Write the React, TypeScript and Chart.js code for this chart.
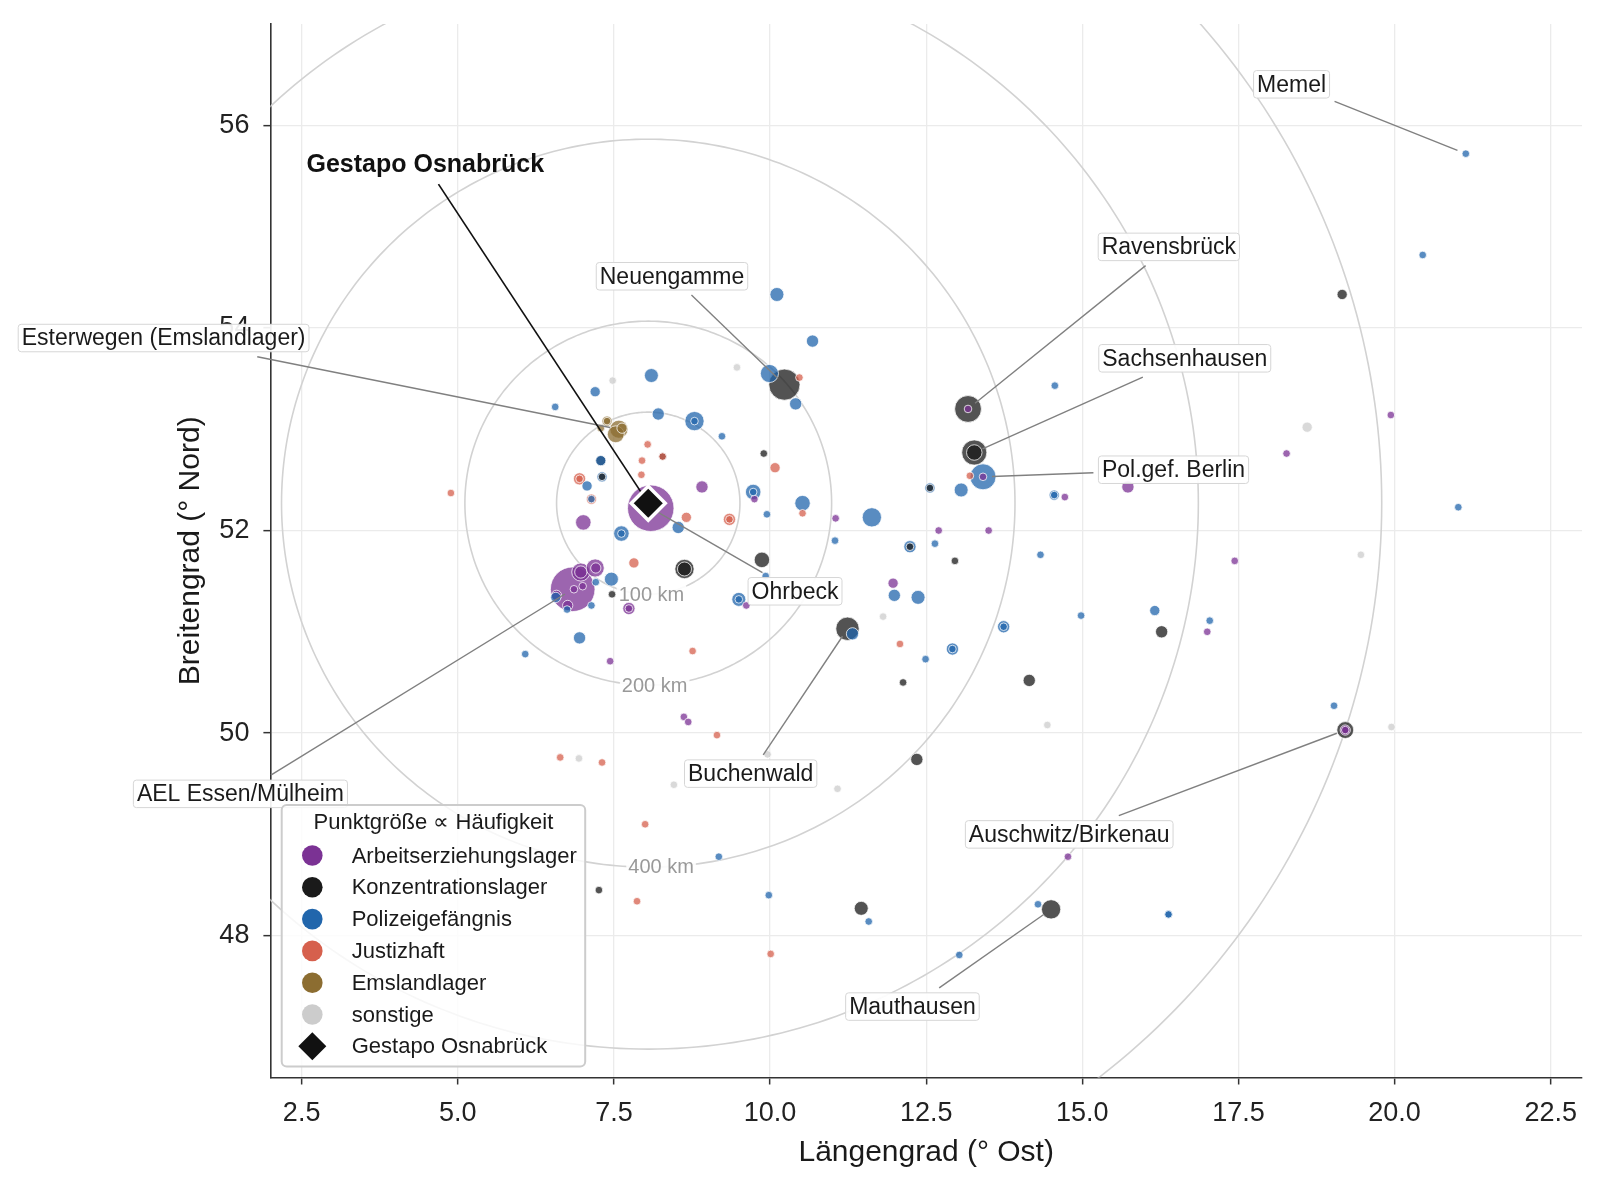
import React, { useEffect, useRef } from "react";
import { Chart, registerables } from "chart.js";

Chart.register(...registerables);

const FONT = '"Liberation Sans", Arial, Helvetica, sans-serif';

// ---------- categories ----------
const CATEGORY_NAMES = [
  "Arbeitserziehungslager",
  "Konzentrationslager",
  "Polizeigefängnis",
  "Justizhaft",
  "Emslandlager",
  "sonstige",
];
const CATEGORY_COLORS = ["#7b3294", "#1a1a1a", "#2166ac", "#d6604d", "#8c6d31", "#cccccc"];

// ---------- data: [Längengrad, Breitengrad, Häufigkeit] ----------
const ARBEITSERZIEHUNGSLAGER: number[][] = [
  [8.09, 52.22, 50], [6.84, 51.42, 46],
  [6.97, 51.59, 7], [6.97, 51.59, 3],
  [7.2, 51.63, 7], [7.21, 51.63, 2],
  [7.0, 51.45, 1], [6.86, 51.42, 1], [6.58, 51.36, 2], [6.76, 51.26, 2],
  [7.74, 51.23, 3], [7.74, 51.23, 1],
  [7.01, 52.08, 5], [8.91, 52.43, 3], [9.75, 52.31, 1], [9.62, 51.26, 1],
  [11.05, 52.12, 1], [12.7, 52.0, 1], [13.5, 52.0, 1], [11.97, 51.48, 2],
  [14.72, 52.33, 1], [15.73, 52.43, 3], [18.27, 52.76, 1], [19.94, 53.14, 1],
  [17.44, 51.7, 1], [17.0, 51.0, 1], [14.77, 48.78, 1], [8.62, 50.16, 1],
  [8.69, 50.11, 1], [7.44, 50.71, 1], [13.41, 52.53, 1], [13.17, 53.2, 1],
  [19.21, 50.03, 2], [19.21, 50.03, 1],
];
const KONZENTRATIONSLAGER: number[][] = [
  [19.16, 54.33, 2], [10.23, 53.44, 22], [13.17, 53.2, 16],
  [13.27, 52.77, 14], [13.27, 52.77, 5],
  [12.56, 52.42, 1], [12.24, 51.84, 1], [9.9, 52.76, 1], [8.28, 52.73, 1],
  [7.31, 52.53, 1], [7.29, 52.69, 2],
  [8.63, 51.62, 8], [8.63, 51.62, 4],
  [9.87, 51.71, 5], [7.47, 51.37, 1], [11.24, 51.03, 12], [12.13, 50.5, 1],
  [12.96, 51.7, 1], [14.15, 50.52, 3], [16.27, 51.0, 3], [12.35, 49.74, 3],
  [11.46, 48.27, 4], [14.5, 48.26, 8], [7.26, 48.45, 1], [19.21, 50.03, 6],
];
const POLIZEIGEFAENGNIS: number[][] = [
  [21.14, 55.72, 1], [20.45, 54.72, 1], [10.11, 54.33, 4], [10.68, 53.87, 3],
  [9.99, 53.55, 7], [10.41, 53.25, 3], [8.1, 53.53, 4], [7.2, 53.37, 2],
  [6.56, 53.22, 1], [8.21, 53.15, 3], [8.79, 53.08, 8], [8.79, 53.08, 1],
  [9.23, 52.93, 1], [7.29, 52.69, 2], [7.07, 52.44, 2], [7.14, 52.31, 1],
  [7.31, 52.53, 2], [7.62, 51.97, 5], [7.62, 51.97, 1], [8.53, 52.03, 3],
  [9.73, 52.38, 5], [9.73, 52.38, 1], [9.95, 52.16, 1], [10.52, 52.27, 5],
  [11.04, 51.9, 1], [11.63, 52.13, 8], [12.24, 51.84, 3], [12.64, 51.87, 1],
  [14.33, 51.76, 1], [13.06, 52.4, 4], [13.41, 52.53, 15], [12.56, 52.42, 2],
  [14.55, 52.35, 2], [14.55, 52.35, 1], [14.56, 53.43, 1], [21.02, 52.23, 1],
  [14.98, 51.16, 1], [16.16, 51.21, 2], [17.04, 51.11, 1], [19.03, 50.27, 1],
  [13.74, 51.05, 3], [13.74, 51.05, 1], [12.92, 50.83, 3], [12.92, 50.83, 1],
  [12.49, 50.73, 1], [12.37, 51.34, 4], [11.99, 51.36, 3], [9.5, 51.32, 4],
  [9.5, 51.32, 1], [9.93, 51.55, 1], [7.46, 51.52, 4], [7.14, 51.26, 1],
  [6.75, 51.22, 1], [6.57, 51.34, 2], [7.21, 51.49, 1], [6.95, 50.94, 3],
  [6.08, 50.78, 1], [9.18, 48.78, 1], [9.98, 48.4, 1], [11.58, 48.14, 1],
  [13.03, 47.81, 1], [14.29, 48.31, 1], [16.38, 48.21, 1], [16.38, 48.21, 1],
  [11.32, 50.98, 3],
];
const JUSTIZHAFT: number[][] = [
  [10.47, 53.51, 1], [8.04, 52.85, 1], [7.95, 52.69, 1], [7.94, 52.55, 1],
  [8.28, 52.73, 1], [6.95, 52.51, 3], [6.95, 52.51, 1], [7.14, 52.31, 2],
  [8.66, 52.13, 2], [9.35, 52.11, 3], [9.35, 52.11, 1], [10.08, 52.62, 2],
  [10.52, 52.17, 1], [7.82, 51.68, 2], [8.76, 50.81, 1], [9.15, 49.98, 1],
  [6.64, 49.76, 1], [7.31, 49.71, 1], [8.0, 49.1, 1], [7.87, 48.34, 1],
  [10.01, 47.82, 1], [12.08, 50.88, 1], [13.2, 52.54, 1], [4.89, 52.37, 1],
];
const EMSLANDLAGER: number[][] = [
  [7.39, 53.08, 2], [7.39, 53.08, 1], [7.58, 53.0, 7], [7.63, 53.01, 2],
  [7.53, 52.95, 6], [7.29, 53.01, 1],
];
const SONSTIGE: number[][] = [
  [9.47, 53.61, 1], [7.48, 53.48, 1], [18.6, 53.02, 2], [19.46, 51.76, 1],
  [11.81, 51.15, 1], [14.44, 50.08, 1], [19.95, 50.06, 1], [9.96, 49.79, 1],
  [8.46, 49.49, 1], [11.08, 49.45, 1], [6.94, 49.75, 1],
];
const CATEGORY_DATA = [
  ARBEITSERZIEHUNGSLAGER,
  KONZENTRATIONSLAGER,
  POLIZEIGEFAENGNIS,
  JUSTIZHAFT,
  EMSLANDLAGER,
  SONSTIGE,
];

const GESTAPO = { label: "Gestapo Osnabrück", lon: 8.05, lat: 52.27 };
const RING_KM = [100, 200, 400, 600, 800];
const RING_LABEL_KM = [100, 200, 400];
const X_TICKS = [2.5, 5, 7.5, 10, 12.5, 15, 17.5, 20, 22.5];
const Y_TICKS = [48, 50, 52, 54, 56];
const X_RANGE = [2, 23];
const Y_RANGE = [46.6, 57.0];
const LEGEND_TITLE = "Punktgröße ∝ Häufigkeit";
const X_TITLE = "Längengrad (° Ost)";
const Y_TITLE = "Breitengrad (° Nord)";

const ANNOTATIONS = [
  { text: "Neuengamme", lon: 10.23, lat: 53.44, textLon: 8.43, textLat: 54.51 },
  { text: "Esterwegen (Emslandlager)", lon: 7.58, lat: 53.0, textLon: 0.29, textLat: 53.9 },
  { text: "AEL Essen/Mülheim", lon: 6.84, lat: 51.42, textLon: 1.52, textLat: 49.4 },
  { text: "Ohrbeck", lon: 8.09, lat: 52.22, textLon: 10.4, textLat: 51.4 },
  { text: "Buchenwald", lon: 11.24, lat: 51.03, textLon: 9.69, textLat: 49.6 },
  { text: "Ravensbrück", lon: 13.17, lat: 53.2, textLon: 16.385, textLat: 54.8 },
  { text: "Sachsenhausen", lon: 13.27, lat: 52.77, textLon: 16.64, textLat: 53.7 },
  { text: "Pol.gef. Berlin", lon: 13.41, lat: 52.53, textLon: 16.46, textLat: 52.6 },
  { text: "Memel", lon: 21.14, lat: 55.72, textLon: 18.35, textLat: 56.405 },
  { text: "Auschwitz/Birkenau", lon: 19.21, lat: 50.03, textLon: 14.79, textLat: 49.0 },
  { text: "Mauthausen", lon: 14.5, lat: 48.26, textLon: 12.28, textLat: 47.3 },
];
const ORIGIN_ANNOTATION = { text: "Gestapo Osnabrück", textLon: 4.48, textLat: 55.617 };

// ---------- helpers ----------
function rgba(hex: string, a: number) {
  const n = parseInt(hex.slice(1), 16);
  return `rgba(${(n >> 16) & 255},${(n >> 8) & 255},${n & 255},${a})`;
}
const radiusFor = (n: number) => 3.2 * Math.sqrt(n) + 0.6;

function roundRect(ctx: CanvasRenderingContext2D, x: number, y: number, w: number, h: number, r: number) {
  ctx.beginPath();
  ctx.moveTo(x + r, y);
  ctx.lineTo(x + w - r, y);
  ctx.arcTo(x + w, y, x + w, y + r, r);
  ctx.lineTo(x + w, y + h - r);
  ctx.arcTo(x + w, y + h, x + w - r, y + h, r);
  ctx.lineTo(x + r, y + h);
  ctx.arcTo(x, y + h, x, y + h - r, r);
  ctx.lineTo(x, y + r);
  ctx.arcTo(x, y, x + r, y, r);
  ctx.closePath();
}

function geom(chart: any, text: string, lon: number, lat: number, bold: boolean) {
  const { ctx, scales } = chart;
  ctx.save();
  ctx.font = bold ? `bold 25px ${FONT}` : `23px ${FONT}`;
  const tw = ctx.measureText(text).width;
  ctx.restore();
  const cx = scales.x.getPixelForValue(lon);
  const cy = scales.y.getPixelForValue(lat);
  return { cx, cy, tw, hw: bold ? tw / 2 : tw / 2 + 3.5, hh: bold ? 12 : 13.75 };
}

function leader(ctx: CanvasRenderingContext2D, g: any, tx: number, ty: number, gap: number, shrink: number, color: string, width: number) {
  const dx = tx - g.cx;
  const dy = ty - g.cy;
  const len = Math.hypot(dx, dy);
  const t0 = Math.min((g.hw + gap) / Math.max(Math.abs(dx), 1e-6), (g.hh + gap) / Math.max(Math.abs(dy), 1e-6));
  const sx = g.cx + dx * t0;
  const sy = g.cy + dy * t0;
  const ex = tx - (dx / len) * shrink;
  const ey = ty - (dy / len) * shrink;
  ctx.beginPath();
  ctx.moveTo(sx, sy);
  ctx.lineTo(ex, ey);
  ctx.strokeStyle = color;
  ctx.lineWidth = width;
  ctx.stroke();
}

// ---------- plugins ----------
const ringsPlugin = {
  id: "rings",
  beforeDatasetsDraw(chart: any) {
    const { ctx, chartArea: a, scales } = chart;
    const x = scales.x, y = scales.y;
    const k = 111.32;
    const cosL = Math.cos((GESTAPO.lat * Math.PI) / 180);
    ctx.save();
    ctx.beginPath();
    ctx.rect(a.left, a.top, a.right - a.left, a.bottom - a.top);
    ctx.clip();
    ctx.strokeStyle = "#d2d2d2";
    ctx.lineWidth = 1.6;
    RING_KM.forEach((r) => {
      ctx.beginPath();
      for (let i = 0; i <= 360; i++) {
        const t = (i * Math.PI) / 180;
        const px = x.getPixelForValue(GESTAPO.lon + (r / (k * cosL)) * Math.cos(t));
        const py = y.getPixelForValue(GESTAPO.lat + (r / k) * Math.sin(t));
        if (i === 0) ctx.moveTo(px, py);
        else ctx.lineTo(px, py);
      }
      ctx.stroke();
    });
    ctx.font = `20px ${FONT}`;
    ctx.textAlign = "center";
    ctx.textBaseline = "middle";
    const ang = (-88 * Math.PI) / 180;
    RING_LABEL_KM.forEach((r) => {
      const px = x.getPixelForValue(GESTAPO.lon + (r / (k * cosL)) * Math.cos(ang));
      const py = y.getPixelForValue(GESTAPO.lat + (r / k) * Math.sin(ang));
      const label = `${r} km`;
      const w = ctx.measureText(label).width;
      ctx.fillStyle = "rgba(255,255,255,0.9)";
      ctx.fillRect(px - w / 2 - 2, py - 11, w + 4, 22);
      ctx.fillStyle = "#999999";
      ctx.fillText(label, px, py + 1);
    });
    ctx.restore();
  },
};

const annotationPlugin = {
  id: "annotations",
  afterDatasetDraw(chart: any, args: any) {
    if (args.index !== 0) return;
    const { ctx, scales } = chart;
    ctx.save();
    ANNOTATIONS.forEach((an) => {
      const g = geom(chart, an.text, an.textLon, an.textLat, false);
      leader(ctx, g, scales.x.getPixelForValue(an.lon), scales.y.getPixelForValue(an.lat), 5, 9, "#808080", 1.4);
    });
    const g0 = geom(chart, ORIGIN_ANNOTATION.text, ORIGIN_ANNOTATION.textLon, ORIGIN_ANNOTATION.textLat, true);
    leader(ctx, g0, scales.x.getPixelForValue(GESTAPO.lon), scales.y.getPixelForValue(GESTAPO.lat), 8, 0, "#111111", 1.7);
    ctx.restore();
  },
  afterDatasetsDraw(chart: any) {
    const { ctx } = chart;
    ctx.save();
    ctx.textAlign = "center";
    ctx.textBaseline = "middle";
    ANNOTATIONS.forEach((an) => {
      const g = geom(chart, an.text, an.textLon, an.textLat, false);
      roundRect(ctx, g.cx - g.hw, g.cy - g.hh, g.hw * 2, g.hh * 2, 3);
      ctx.fillStyle = "rgba(255,255,255,0.92)";
      ctx.fill();
      ctx.strokeStyle = "#d6d6d6";
      ctx.lineWidth = 1;
      ctx.stroke();
      ctx.font = `23px ${FONT}`;
      ctx.fillStyle = "#1a1a1a";
      ctx.fillText(an.text, g.cx, g.cy + 1);
    });
    const g0 = geom(chart, ORIGIN_ANNOTATION.text, ORIGIN_ANNOTATION.textLon, ORIGIN_ANNOTATION.textLat, true);
    ctx.font = `bold 25px ${FONT}`;
    ctx.fillStyle = "#111111";
    ctx.fillText(ORIGIN_ANNOTATION.text, g0.cx, g0.cy + 1);
    ctx.restore();
  },
};

const legendPlugin = {
  id: "legendBox",
  afterDraw(chart: any) {
    const { ctx, chartArea: a } = chart;
    const w = 303.5, h = 261.5;
    const left = a.left + 11.3;
    const top = a.bottom - 11 - h;
    ctx.save();
    roundRect(ctx, left, top, w, h, 5);
    ctx.fillStyle = "rgba(255,255,255,0.82)";
    ctx.fill();
    ctx.strokeStyle = "#cccccc";
    ctx.lineWidth = 2;
    ctx.stroke();
    ctx.font = `22px ${FONT}`;
    ctx.textBaseline = "middle";
    ctx.textAlign = "center";
    ctx.fillStyle = "#1a1a1a";
    ctx.fillText(LEGEND_TITLE, left + w / 2, top + 18);
    ctx.textAlign = "left";
    const items = CATEGORY_NAMES.map((n, i) => ({ text: n, color: CATEGORY_COLORS[i], diamond: false }));
    items.push({ text: GESTAPO.label, color: "#111111", diamond: true });
    items.forEach((it, i) => {
      const cy = top + 50.5 + i * 31.8;
      const cx = left + 30.6;
      ctx.beginPath();
      if (it.diamond) {
        const r = 14;
        ctx.moveTo(cx - r, cy);
        ctx.lineTo(cx, cy - r);
        ctx.lineTo(cx + r, cy);
        ctx.lineTo(cx, cy + r);
        ctx.closePath();
      } else {
        ctx.arc(cx, cy, 10.3, 0, Math.PI * 2);
      }
      ctx.fillStyle = it.color;
      ctx.fill();
      ctx.fillStyle = "#1a1a1a";
      ctx.fillText(it.text, left + 70, cy + 1);
    });
    ctx.restore();
  },
};

function noPadding(s: any) {
  s.paddingTop = 0;
  s.paddingBottom = 0;
  s.paddingLeft = 0;
  s.paddingRight = 0;
}

// ---------- component ----------
export default function App() {
  const ref = useRef<HTMLCanvasElement>(null);

  useEffect(() => {
    document.body.style.margin = "0";
    const points: any[] = [];
    CATEGORY_DATA.forEach((arr, ci) =>
      arr.forEach(([lon, lat, n]) => points.push({ x: lon, y: lat, n, cat: ci }))
    );
    points.sort((p, q) => q.n - p.n);

    const tickFont = { family: FONT, size: 27 };
    const titleFont = { family: FONT, size: 30 };

    const chart = new Chart(ref.current!, {
      type: "scatter",
      data: {
        datasets: [
          {
            label: "Orte",
            data: points,
            order: 1,
            pointRadius: (c: any) => (c.raw ? radiusFor(c.raw.n) : 3),
            pointHoverRadius: (c: any) => (c.raw ? radiusFor(c.raw.n) : 3),
            backgroundColor: (c: any) => (c.raw ? rgba(CATEGORY_COLORS[c.raw.cat], 0.75) : "#999"),
            borderColor: "rgba(255,255,255,0.95)",
            borderWidth: 0.8,
          } as any,
          {
            label: GESTAPO.label,
            data: [{ x: GESTAPO.lon, y: GESTAPO.lat }],
            order: 0,
            pointStyle: "rectRot",
            pointRadius: 17,
            pointHoverRadius: 17,
            backgroundColor: "#111111",
            borderColor: "#ffffff",
            borderWidth: 3.5,
          } as any,
        ],
      },
      options: {
        responsive: false,
        animation: false,
        events: [],
        layout: { padding: { top: 20.5, right: 20.5, left: 0, bottom: 0 } },
        plugins: {
          legend: { display: false },
          tooltip: { enabled: false },
        },
        scales: {
          x: {
            type: "linear",
            min: X_RANGE[0],
            max: X_RANGE[1],
            afterBuildTicks: (s: any) => {
              s.ticks = X_TICKS.map((v) => ({ value: v }));
            },
            afterFit: (s: any) => {
              s.height = 110.5;
              noPadding(s);
            },
            grid: { color: "#ebebeb", lineWidth: 1.3, tickLength: 7, tickColor: "#333333", tickWidth: 1.5 },
            border: { display: true, color: "#333333", width: 1.6 },
            ticks: {
              font: tickFont,
              color: "#222222",
              padding: 13,
              maxRotation: 0,
              autoSkip: false,
              callback: (v: any) => Number(v).toFixed(1),
            },
            title: {
              display: true,
              text: X_TITLE,
              font: titleFont,
              color: "#1a1a1a",
              padding: { top: 0, bottom: 17 },
            },
          },
          y: {
            type: "linear",
            min: Y_RANGE[0],
            max: Y_RANGE[1],
            afterBuildTicks: (s: any) => {
              s.ticks = Y_TICKS.map((v) => ({ value: v }));
            },
            afterFit: (s: any) => {
              s.width = 270.4;
              noPadding(s);
            },
            grid: { color: "#ebebeb", lineWidth: 1.3, tickLength: 7, tickColor: "#333333", tickWidth: 1.5 },
            border: { display: true, color: "#333333", width: 1.6 },
            ticks: {
              font: tickFont,
              color: "#222222",
              padding: 14,
              autoSkip: false,
              callback: (v: any) => String(Math.round(Number(v))),
            },
            title: {
              display: true,
              text: Y_TITLE,
              font: titleFont,
              color: "#1a1a1a",
              padding: { top: 173, bottom: 0 },
            },
          },
        },
      } as any,
      plugins: [ringsPlugin, annotationPlugin, legendPlugin],
    });
    return () => chart.destroy();
  }, []);

  return (
    <div style={{ position: "absolute", left: 0, top: 0, width: 1606, height: 1188, background: "#ffffff" }}>
      <canvas ref={ref} width={1606} height={1188} style={{ display: "block", width: 1606, height: 1188 }} />
    </div>
  );
}
